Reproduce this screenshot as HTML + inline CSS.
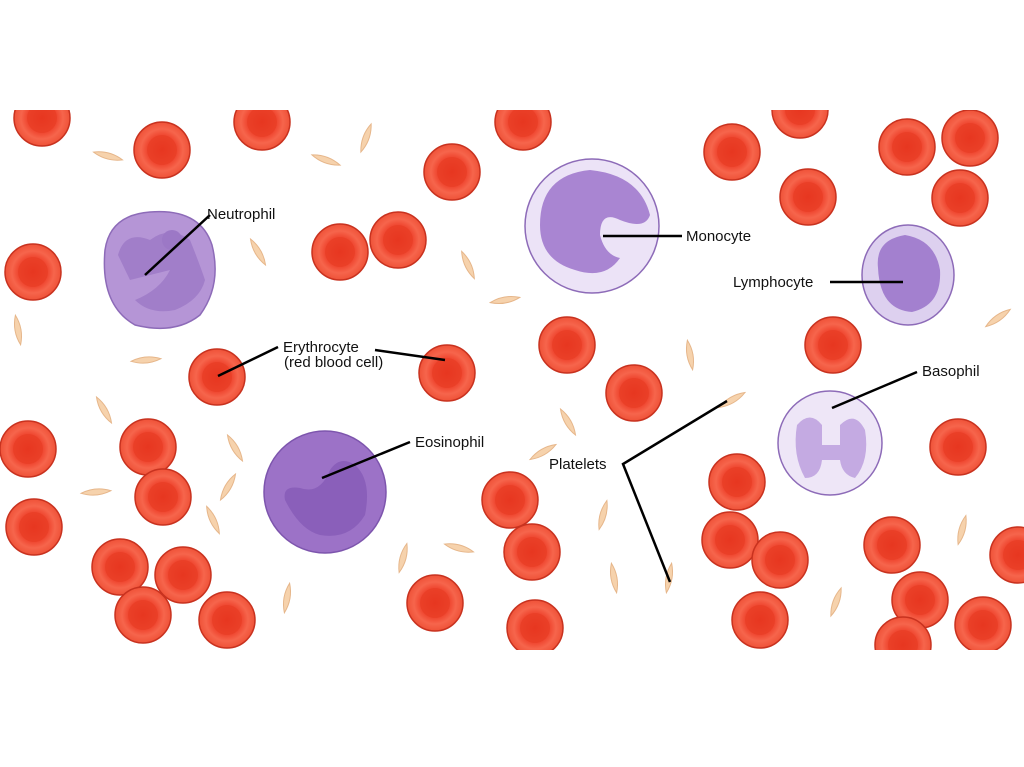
<!DOCTYPE html>
<html><head><meta charset="utf-8"><style>
html,body{margin:0;padding:0;background:#fff;width:1024px;height:767px;overflow:hidden}
svg text{font-family:"Liberation Sans",Arial,sans-serif;font-size:15px;fill:#111}
</style></head><body>
<svg width="1024" height="767" viewBox="0 0 1024 767" xmlns="http://www.w3.org/2000/svg">
<defs>
<radialGradient id="rg" cx="50%" cy="50%" r="50%">
<stop offset="0" stop-color="#e8321f"/><stop offset="0.55" stop-color="#f04a33"/><stop offset="0.75" stop-color="#f6654c"/><stop offset="1" stop-color="#ef5238"/>
</radialGradient>
<g id="r"><circle r="28" fill="url(#rg)" stroke="#c8321f" stroke-width="1.5"/><circle r="15" fill="#e63a22" opacity="0.6"/></g>
<g id="p"><path d="M-15 0 Q0 -6 15 0 Q0 6 -15 0Z" fill="#f6d2ac" stroke="#e6b68a" stroke-width="1"/></g>
<clipPath id="c"><rect x="0" y="110" width="1024" height="540"/></clipPath>
</defs>
<g clip-path="url(#c)">
<g>
<use href="#r" x="42" y="118"/><use href="#r" x="262" y="122"/><use href="#r" x="523" y="122"/><use href="#r" x="800" y="110"/>
<use href="#r" x="162" y="150"/><use href="#r" x="452" y="172"/><use href="#r" x="732" y="152"/><use href="#r" x="907" y="147"/><use href="#r" x="970" y="138"/><use href="#r" x="808" y="197"/><use href="#r" x="960" y="198"/>
<use href="#r" x="33" y="272"/><use href="#r" x="340" y="252"/><use href="#r" x="398" y="240"/><use href="#r" x="217" y="377"/><use href="#r" x="447" y="373"/><use href="#r" x="567" y="345"/><use href="#r" x="634" y="393"/><use href="#r" x="833" y="345"/>
<use href="#r" x="28" y="449"/><use href="#r" x="148" y="447"/><use href="#r" x="163" y="497"/><use href="#r" x="34" y="527"/><use href="#r" x="510" y="500"/><use href="#r" x="532" y="552"/><use href="#r" x="737" y="482"/><use href="#r" x="730" y="540"/><use href="#r" x="780" y="560"/><use href="#r" x="958" y="447"/><use href="#r" x="892" y="545"/><use href="#r" x="920" y="600"/><use href="#r" x="983" y="625"/><use href="#r" x="1018" y="555"/>
<use href="#r" x="120" y="567"/><use href="#r" x="183" y="575"/><use href="#r" x="143" y="615"/><use href="#r" x="227" y="620"/><use href="#r" x="435" y="603"/><use href="#r" x="535" y="628"/><use href="#r" x="760" y="620"/><use href="#r" x="903" y="645"/>
</g>
<g>
<use href="#p" transform="translate(108,156) rotate(15)"/><use href="#p" transform="translate(366,138) rotate(-70)"/><use href="#p" transform="translate(326,160) rotate(20)"/><use href="#p" transform="translate(258,252) rotate(60)"/><use href="#p" transform="translate(468,265) rotate(65)"/><use href="#p" transform="translate(505,300) rotate(-10)"/><use href="#p" transform="translate(18,330) rotate(80)"/><use href="#p" transform="translate(146,360) rotate(-5)"/><use href="#p" transform="translate(104,410) rotate(60)"/><use href="#p" transform="translate(235,448) rotate(60)"/><use href="#p" transform="translate(228,487) rotate(-60)"/><use href="#p" transform="translate(96,492) rotate(-5)"/><use href="#p" transform="translate(213,520) rotate(65)"/><use href="#p" transform="translate(287,598) rotate(-80)"/><use href="#p" transform="translate(403,558) rotate(-75)"/><use href="#p" transform="translate(459,548) rotate(15)"/><use href="#p" transform="translate(543,452) rotate(-30)"/><use href="#p" transform="translate(568,422) rotate(60)"/><use href="#p" transform="translate(603,515) rotate(-75)"/><use href="#p" transform="translate(614,578) rotate(80)"/><use href="#p" transform="translate(669,578) rotate(-80)"/><use href="#p" transform="translate(690,355) rotate(80)"/><use href="#p" transform="translate(732,400) rotate(-30)"/><use href="#p" transform="translate(998,318) rotate(-35)"/><use href="#p" transform="translate(962,530) rotate(-75)"/><use href="#p" transform="translate(836,602) rotate(-70)"/>
</g>
<g>
<path d="M105 250 Q110 215 150 212 Q200 208 212 245 Q222 285 200 315 Q175 335 135 325 Q100 305 105 250Z" fill="#b595d6" stroke="#8d6bb8" stroke-width="1.5"/>
<path d="M118 255 Q125 230 150 240 Q170 225 190 240 Q200 265 205 280 Q200 300 175 310 Q150 315 135 300 Q160 290 170 270 Q150 275 130 280Z" fill="#9c78c6" opacity="0.8"/>
<circle cx="172" cy="240" r="10" fill="#9c78c6"/>
</g>
<g>
<circle cx="592" cy="226" r="67" fill="#ece3f7" stroke="#8d6bb8" stroke-width="1.5"/>
<path d="M540 225 Q540 175 590 170 Q640 175 650 215 Q645 230 620 220 Q600 210 600 235 Q605 255 620 258 Q605 280 575 270 Q540 260 540 225Z" fill="#a985d2"/>
</g>
<g>
<ellipse cx="908" cy="275" rx="46" ry="50" fill="#ddd0ef" stroke="#8d6bb8" stroke-width="1.5"/>
<path d="M878 268 Q875 240 905 235 Q935 240 940 270 Q942 305 912 312 Q880 310 878 268Z" fill="#a380cf"/>
</g>
<g>
<circle cx="325" cy="492" r="61" fill="#9c72c7" stroke="#7d55ad" stroke-width="1.5"/>
<path d="M285 500 Q282 485 300 488 Q320 495 330 470 Q340 455 355 465 Q372 480 365 515 Q350 540 320 535 Q300 530 285 500Z" fill="#8a5fba"/>
</g>
<g>
<circle cx="830" cy="443" r="52" fill="#eee6f7" stroke="#8d6bb8" stroke-width="1.5"/>
<path d="M797 425 Q810 410 822 425 L822 445 L840 445 L840 425 Q855 410 865 430 Q870 460 855 478 Q842 475 840 460 L822 460 Q820 478 805 478 Q792 455 797 425Z" fill="#c4aae2"/>
</g>
</g>
<g stroke="#000" stroke-width="2.5" fill="none">
<line x1="210" y1="215" x2="145" y2="275"/>
<line x1="603" y1="236" x2="682" y2="236"/>
<line x1="830" y1="282" x2="903" y2="282"/>
<line x1="278" y1="347" x2="218" y2="376"/>
<line x1="375" y1="350" x2="445" y2="360"/>
<line x1="917" y1="372" x2="832" y2="408"/>
<line x1="410" y1="442" x2="322" y2="478"/>
<polyline points="727,401 623,464 670,582"/>
</g>
<text x="207" y="219">Neutrophil</text>
<text x="686" y="241">Monocyte</text>
<text x="733" y="287">Lymphocyte</text>
<text x="283" y="352">Erythrocyte</text>
<text x="284" y="367">(red blood cell)</text>
<text x="922" y="376">Basophil</text>
<text x="415" y="447">Eosinophil</text>
<text x="549" y="469">Platelets</text>
</svg>
</body></html>
